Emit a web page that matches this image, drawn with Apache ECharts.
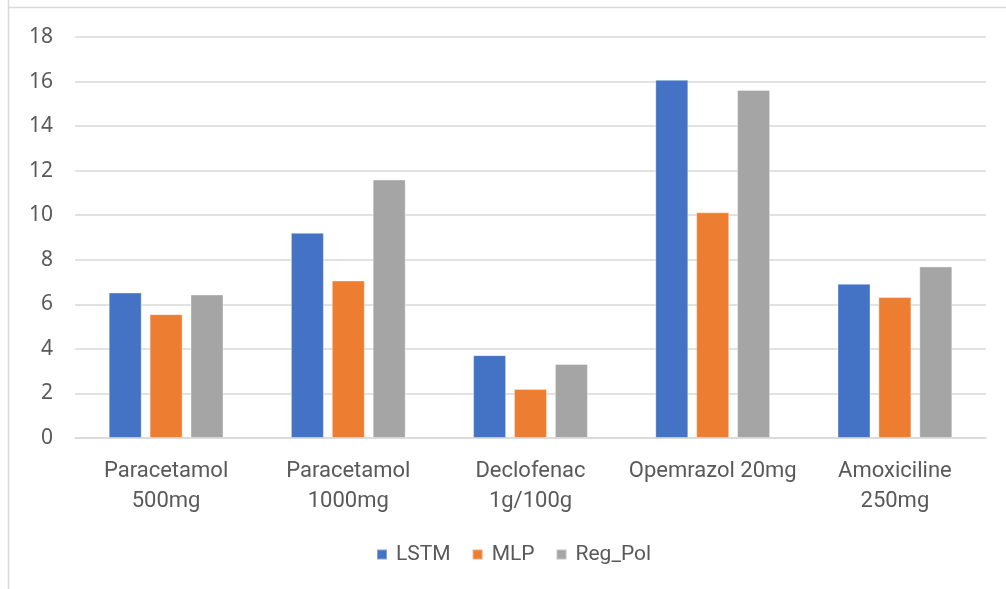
<!DOCTYPE html>
<html>
<head>
<meta charset="utf-8">
<script src="https://cdn.jsdelivr.net/npm/echarts@6/dist/echarts.min.js"></script>
<style>
html,body{margin:0;padding:0;background:#fff;}
#chart{width:1006px;height:589px;}
</style>
</head>
<body>
<div id="chart"></div>
<script>
const categories = ["Paracetamol\n500mg", "Paracetamol\n1000mg", "Declofenac\n1g/100g", "Opemrazol 20mg", "Amoxiciline\n250mg"];
const seriesNames = ["LSTM", "MLP", "Reg_Pol"];
const lstm = [6.53, 9.21, 3.72, 16.08, 6.92];
const mlp = [5.56, 7.07, 2.2, 10.13, 6.33];
const regPol = [6.44, 11.6, 3.32, 15.62, 7.7];
const yTicks = { min: 0, max: 18, interval: 2 };
const colors = ["#4472C4", "#ED7D31", "#A5A5A5"];

const chart = echarts.init(document.getElementById('chart'), null, { renderer: 'canvas' });
const values = [lstm, mlp, regPol];
chart.setOption({
  animation: false,
  backgroundColor: '#fff',
  graphic: [
    { type: 'line', shape: { x1: 8.5, y1: 0, x2: 8.5, y2: 589 }, style: { stroke: '#D9D9D9', lineWidth: 1.5 } },
    { type: 'line', shape: { x1: 8, y1: 7.5, x2: 1006, y2: 7.5 }, style: { stroke: '#D9D9D9', lineWidth: 1.5 } }
  ],
  grid: { left: 75, right: 20, top: 37, bottom: 151 },
  legend: {
    data: seriesNames,
    bottom: 19,
    left: 371,
    icon: 'rect',
    itemWidth: 10,
    itemHeight: 10,
    itemGap: 21,
    textStyle: { fontFamily: 'Roboto', fontSize: 21, color: '#595959', padding: [0, 0, 0, 4] }
  },
  xAxis: {
    type: 'category',
    data: categories,
    axisLine: { show: true, lineStyle: { color: '#D9D9D9', width: 1.5 } },
    axisTick: { show: false },
    axisLabel: {
      fontFamily: 'Roboto', fontSize: 22, color: '#595959',
      lineHeight: 30, margin: 18, interval: 0
    }
  },
  yAxis: {
    type: 'value',
    min: yTicks.min, max: yTicks.max, interval: yTicks.interval,
    axisLine: { show: false },
    axisTick: { show: false },
    splitLine: { lineStyle: { color: '#D9D9D9', width: 1.5 } },
    axisLabel: { fontFamily: 'Noto Sans', fontSize: 21, color: '#595959', margin: 22 }
  },
  series: seriesNames.map((n, i) => ({
    name: n,
    type: 'bar',
    data: values[i],
    barGap: '24%',
    barCategoryGap: '37%',
    itemStyle: { color: colors[i], borderColor: 'rgba(255,255,255,0.35)', borderWidth: 1 }
  }))
});
</script>
</body>
</html>
